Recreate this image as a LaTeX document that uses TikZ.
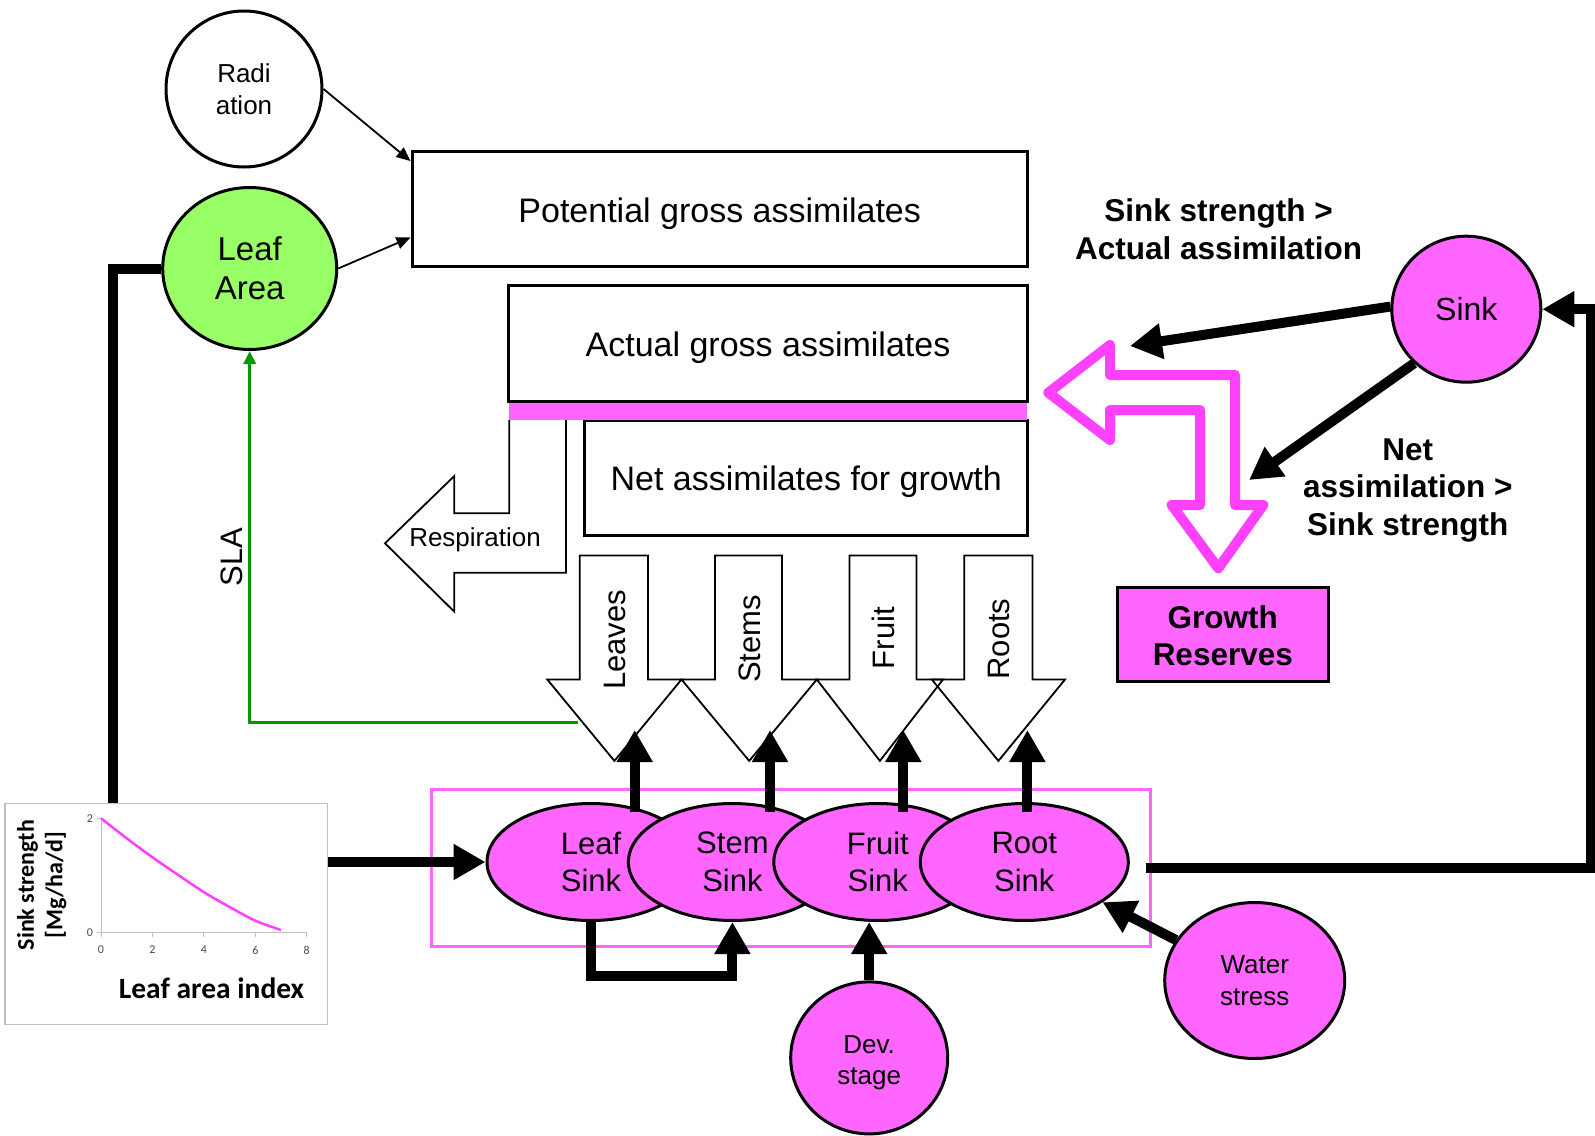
\documentclass[tikz,border=0pt]{standalone}
\usepackage{fontspec}
\setmainfont{Liberation Sans}
\newfontfamily\chartfont{Carlito}
\usetikzlibrary{arrows.meta,shapes.geometric,calc}
\definecolor{pinkfill}{HTML}{FF66FF}
\definecolor{pinkline}{HTML}{FF40FF}
\definecolor{leafgreen}{HTML}{99FF66}
\definecolor{slagreen}{HTML}{009900}
\begin{document}
\begin{tikzpicture}[x=1pt,y=-1pt,
  box/.style={draw=black,line width=3pt,fill=white,inner sep=0pt},
  boxtext/.style={inner sep=0pt,font=\fontsize{34}{40}\selectfont},
  circ/.style={ellipse,draw=black,line width=3pt,inner sep=0pt,align=center},
  sinkell/.style={circ,fill=pinkfill,minimum width=208pt,minimum height=117pt,font=\fontsize{31}{37.7}\selectfont},
  thickarrow/.style={line width=10pt,-{Triangle[length=32pt,width=34pt]}},
  thickline/.style={line width=10pt},
  thinarrow/.style={line width=1.8pt,-{Triangle[length=14pt,width=12pt]}},
  flowarrow/.style={draw=black,line width=1.8pt,line join=miter},
  flowlabel/.style={rotate=90,font=\fontsize{31}{37}\selectfont,inner sep=0pt},
  boldlabel/.style={align=center,font=\bfseries\fontsize{31.5}{37.8}\selectfont,inner sep=0pt},
  ticklabel/.style={font=\chartfont\fontsize{12}{14}\selectfont,text=black!70,inner sep=0pt},
]
\fill[white] (0,0) rectangle (1595,1135);
\useasboundingbox (0,0) rectangle (1595,1135);

% top nodes
\node[circ,fill=white,minimum width=156pt,minimum height=156pt,font=\fontsize{26}{31.6}\selectfont] (rad) at (244,89) {Radi\\ation};
\node[circ,fill=leafgreen,minimum width=174pt,minimum height=162pt,font=\fontsize{33}{38.7}\selectfont] (la) at (249.7,268.5) {Leaf\\Area};

\node[box,minimum width=615.4pt,minimum height=114.9pt] (pot) at (719.7,209) {};
\node[boxtext] (potT) at ($(pot)+(0,5)$) {Potential gross assimilates};
\node[box,minimum width=518.8pt,minimum height=116pt] (act) at (768,343.8) {};
\node[boxtext] (actT) at ($(act)+(0,4)$) {Actual gross assimilates};
\node[box,minimum width=442.5pt,minimum height=115.9pt] (net) at (806.2,478) {};
\node[boxtext] (netT) at ($(net)+(0,4)$) {Net assimilates for growth};
\node[fill=pinkfill,minimum width=518.8pt,minimum height=17pt,inner sep=0pt] (bar) at (768,411.6) {};

% respiration arrow
\filldraw[flowarrow,fill=white] (509.3,420)--(509.3,513.3)--(454.3,513.3)--(454.3,476)--(385,543.3)--(454.3,611.7)--(454.3,572.7)--(566,572.7)--(566,420);
\node[font=\fontsize{26}{31}\selectfont,inner sep=0pt] (resp) at (475,540) {Respiration};

% allocation arrows
\fill[white] (579.8,555.4)--(648,555.4)--(648,679.5)--(681.5,679.5)--(614.4,760.9)--(547.3,679.5)--(579.8,679.5)--cycle;
\fill[white] (715,555.4)--(782,555.4)--(782,679.5)--(816.8,679.5)--(749.2,760.9)--(681.5,679.5)--(715,679.5)--cycle;
\fill[white] (849.4,555.4)--(916.5,555.4)--(916.5,679.5)--(943,679.5)--(879.9,760.9)--(816.8,679.5)--(849.4,679.5)--cycle;
\fill[white] (964.3,555.4)--(1032.5,555.4)--(1032.5,679.5)--(1065,679.5)--(998.4,760.9)--(931.8,679.5)--(964.3,679.5)--cycle;
\draw[flowarrow] (579.8,555.4)--(648,555.4)--(648,679.5)--(681.5,679.5)--(614.4,760.9)--(547.3,679.5)--(579.8,679.5)--cycle;
\draw[flowarrow] (715,555.4)--(782,555.4)--(782,679.5)--(816.8,679.5)--(749.2,760.9)--(681.5,679.5)--(715,679.5)--cycle;
\draw[flowarrow] (849.4,555.4)--(916.5,555.4)--(916.5,679.5)--(943,679.5)--(879.9,760.9)--(816.8,679.5)--(849.4,679.5)--cycle;
\draw[flowarrow] (964.3,555.4)--(1032.5,555.4)--(1032.5,679.5)--(1065,679.5)--(998.4,760.9)--(931.8,679.5)--(964.3,679.5)--cycle;
\node[flowlabel] (lvs) at (615,640) {Leaves};
\node[flowlabel] (stm) at (750,639) {Stems};
\node[flowlabel] (frt) at (883,638) {Fruit};
\node[flowlabel] (rts) at (999,639) {Roots};

% SLA
\node[rotate=90,font=\fontsize{31}{37}\selectfont,inner sep=0pt] (sla) at (232,557) {SLA};
\coordinate (gs) at (578,722);
\draw[slagreen,line width=3pt,-{Triangle[length=13pt,width=12pt]}] (gs) -| (la.south);

% thin arrows into potential
\draw[thinarrow] (rad.east) -- ($(pot.north west)+(0,11)$);
\draw[thinarrow] (la.east) -- ($(pot.south west)+(0,-30.5)$);

% sink group
\node[draw=pinkfill,line width=3pt,minimum width=719.2pt,minimum height=156.7pt,inner sep=0pt] (grp) at (790.9,867.65) {};
\node[sinkell] (ls) at (591,862) {Leaf\\Sink};
\node[sinkell] (ss) at (732.4,862) {Stem\\Sink};
\node[sinkell] (fs) at (877.8,862) {Fruit\\Sink};
\node[sinkell] (rs) at (1024.3,862) {Root\\Sink};

\node[circ,fill=pinkfill,minimum width=157pt,minimum height=152pt] (ds) at (869.2,1057.9) {};
\node[align=center,inner sep=0pt,font=\fontsize{26}{31.5}\selectfont] (dsT) at ($(ds)+(0,5)$) {Dev.\\stage};
\node[circ,fill=pinkfill,minimum width=180pt,minimum height=156pt,font=\fontsize{26}{31.5}\selectfont] (ws) at (1254.7,980.5) {Water\\stress};
\node[circ,fill=pinkfill,minimum width=149pt,minimum height=146pt,font=\fontsize{32}{38}\selectfont] (sink) at (1466.3,309.2) {Sink};

% up arrows from sinks
\foreach \x/\n in {634.7/a,770/b,903.3/c,1027.4/d}{
  \coordinate (ub\n) at (\x,812);
  \coordinate (ut\n) at (\x,730);
  \draw[thickarrow] (ub\n) -- (ut\n);
}

% chart
\node[draw=black!25,line width=1.5pt,fill=white,minimum width=322.5pt,minimum height=220.7pt,inner sep=0pt] (chart) at (166.25,913.95) {};
\draw[black!25,line width=1pt] (101,818.3) -- (101,932.7) -- (306.7,932.7);
\draw[black!25,line width=1pt] (97,818.3) -- (101,818.3) (97,932.7) -- (101,932.7);
\foreach \xx in {101,152.4,203.8,255.3,306.7}{\draw[black!25,line width=1pt] (\xx,932.7) -- (\xx,936.7);}
\node[ticklabel] (ty2) at (90,818.3) {2};
\node[ticklabel] (ty0) at (90,932.7) {0};
\node[ticklabel] (tx0) at (101,950) {0};
\node[ticklabel] (tx2) at (152.4,950) {2};
\node[ticklabel] (tx4) at (203.8,950) {4};
\node[ticklabel] (tx6) at (255.3,950) {6};
\node[ticklabel] (tx8) at (306.7,950) {8};
\draw[pinkline,line width=2.5pt] plot[smooth] coordinates {(101,818.3) (126.7,838.3) (152.4,857.2) (178.1,874.9) (203.8,892.1) (229.6,907) (255.3,920.7) (281,930)};
\node[rotate=90,align=center,inner sep=0pt,font=\chartfont\bfseries\fontsize{24}{28.5}\selectfont] (ylab) at (41.75,885) {Sink strength\\{[Mg/ha/d]}};
\node[inner sep=0pt,font=\chartfont\bfseries\fontsize{29.5}{34}\selectfont] (xlab) at (211.6,988.5) {Leaf area index};

% thick connectors
\draw[thickline] ($(chart.north west)+(109,0)$) |- (la.west);
\draw[thickarrow] (chart.east |- ls.west) -- (ls.west);
\draw[thickarrow] (ls.south) -- ++(0,54) -| (ss.south);
\draw[thickarrow] (ds.north) -- (ds.north |- fs.south);
\draw[thickarrow] (ws) -- (rs);
\coordinate (loop0) at (1146,867.7);
\draw[thickarrow] (loop0) -| ($(sink.east)+(49,0)$) -- (sink.east);
\coordinate (saEnd) at (1130,346);
\coordinate (snEnd) at (1249,480);
\draw[thickarrow] (sink.178) -- (saEnd);
\draw[thickarrow] (sink.226) -- (snEnd);

% pink L arrow
\draw[pinkline,line width=10pt,line join=round] (1048.3,392.7)--(1110,345)--(1110,375)--(1235,375)--(1235,505)--(1263.3,505)--(1218.3,568.3)--(1171.7,505)--(1200,505)--(1200,410)--(1110,410)--(1110,440)--cycle;

% labels
\node[boldlabel] (t1) at (1218.6,229.4) {Sink strength >\\Actual assimilation};
\node[boldlabel] (t2) at (1407.8,490.3) {Net\\assimilation >\\Sink strength};
\node[draw=black,line width=3pt,fill=pinkfill,minimum width=211.5pt,minimum height=94.5pt,boldlabel] (gr) at (1222.8,634.3) {};
\node[boldlabel] (grT) at ($(gr)+(0,1.5)$) {Growth\\Reserves};
\end{tikzpicture}
\end{document}
